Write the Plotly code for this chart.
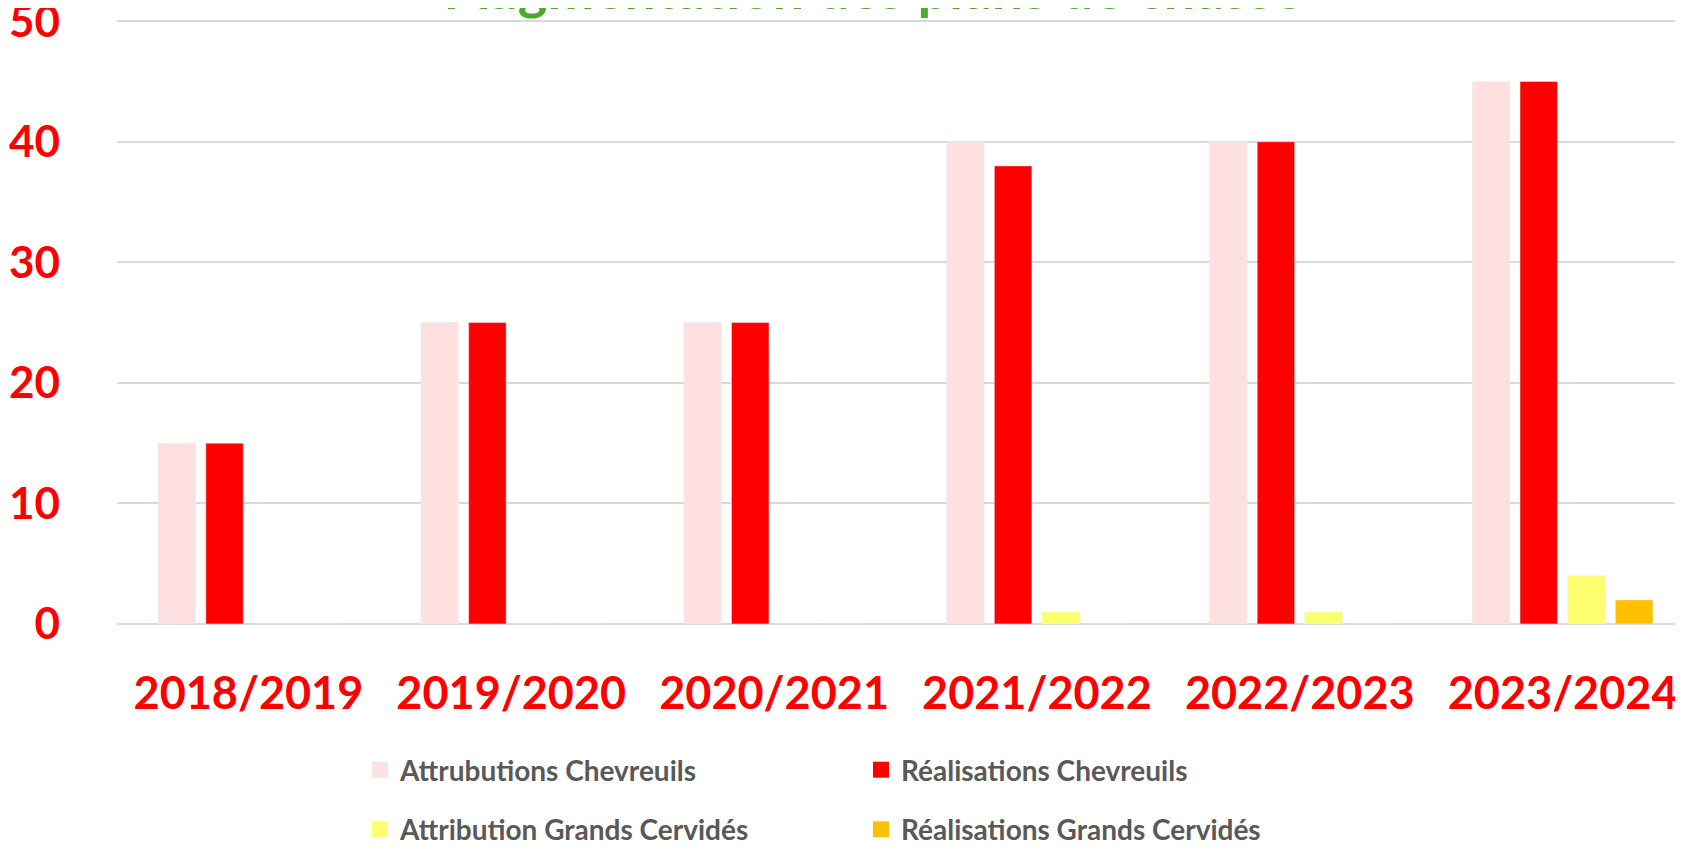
import plotly.graph_objects as go

seasons = ['2018/2019', '2019/2020', '2020/2021', '2021/2022', '2022/2023', '2023/2024']
attr_chevreuils = [15, 25, 25, 40, 40, 45]
real_chevreuils = [15, 25, 25, 38, 40, 45]
attr_cervides = [0, 0, 0, 1, 1, 4]
real_cervides = [0, 0, 0, 0, 0, 2]

series = [
    ('Attrubutions Chevreuils', attr_chevreuils, '#FFE0E0', 'legend'),
    ('Réalisations Chevreuils', real_chevreuils, '#FF0000', 'legend'),
    ('Attribution Grands Cervidés', attr_cervides, '#FCFF6E', 'legend2'),
    ('Réalisations Grands Cervidés', real_cervides, '#FFC000', 'legend2'),
]

FONT = 'Lato'
# the page body keeps its 8px margin, so the figure is 8px smaller than the window
W, H = 1675, 840

fig = go.Figure()
for name, vals, color, leg in series:
    fig.add_trace(go.Bar(x=seasons, y=vals, name=name, marker_color=color,
                         showlegend=False))
# dummy traces so the legend squares are bigger than the default bar icon
for name, vals, color, leg in series:
    fig.add_trace(go.Scatter(x=[None], y=[None], mode='markers', name=name,
                             marker=dict(symbol='square', size=20, color=color),
                             legend=leg, showlegend=True))

legend_style = dict(orientation='h', entrywidth=456, entrywidthmode='pixels',
                    xref='container', yref='container', xanchor='left', yanchor='middle',
                    font=dict(family=FONT, size=28, color='#595959', weight='bold'),
                    bgcolor='rgba(0,0,0,0)', itemclick=False)

fig.update_layout(
    width=W, height=H,
    margin=dict(l=109, r=0, t=12, b=224),
    paper_bgcolor='white', plot_bgcolor='white',
    barmode='group', bargap=0.274, bargroupgap=0.214,
    legend=dict(x=352 / W, y=1 - 762 / H, **legend_style),
    legend2=dict(x=352 / W, y=1 - 821.5 / H, **legend_style),
)

# title sits mostly above the top edge, as in the original
fig.add_annotation(text='<b>Augmentation des plans de chasse</b>', xref='paper', yref='paper',
                   x=0.484, y=0.9945, xanchor='center', yanchor='bottom', showarrow=False,
                   font=dict(family=FONT, size=56, color='#4EA72E'))

fig.update_xaxes(type='category', range=[-0.5, 5.458], showgrid=False, showline=False,
                 ticks='', ticklabelstandoff=39, automargin=False,
                 tickfont=dict(family=FONT, size=45, color='#FF0000', weight='bold'))
fig.update_yaxes(range=[0, 50.1], tickvals=[0, 10, 20, 30, 40, 50],
                 showgrid=True, gridcolor='#D9D9D9', gridwidth=2,
                 zeroline=True, zerolinecolor='#D9D9D9', zerolinewidth=2,
                 showline=False, ticks='', ticklabelstandoff=56, ticklabeloverflow='allow',
                 automargin=False,
                 tickfont=dict(family=FONT, size=44, color='#FF0000', weight='bold'))

fig.write_html("out.html")
